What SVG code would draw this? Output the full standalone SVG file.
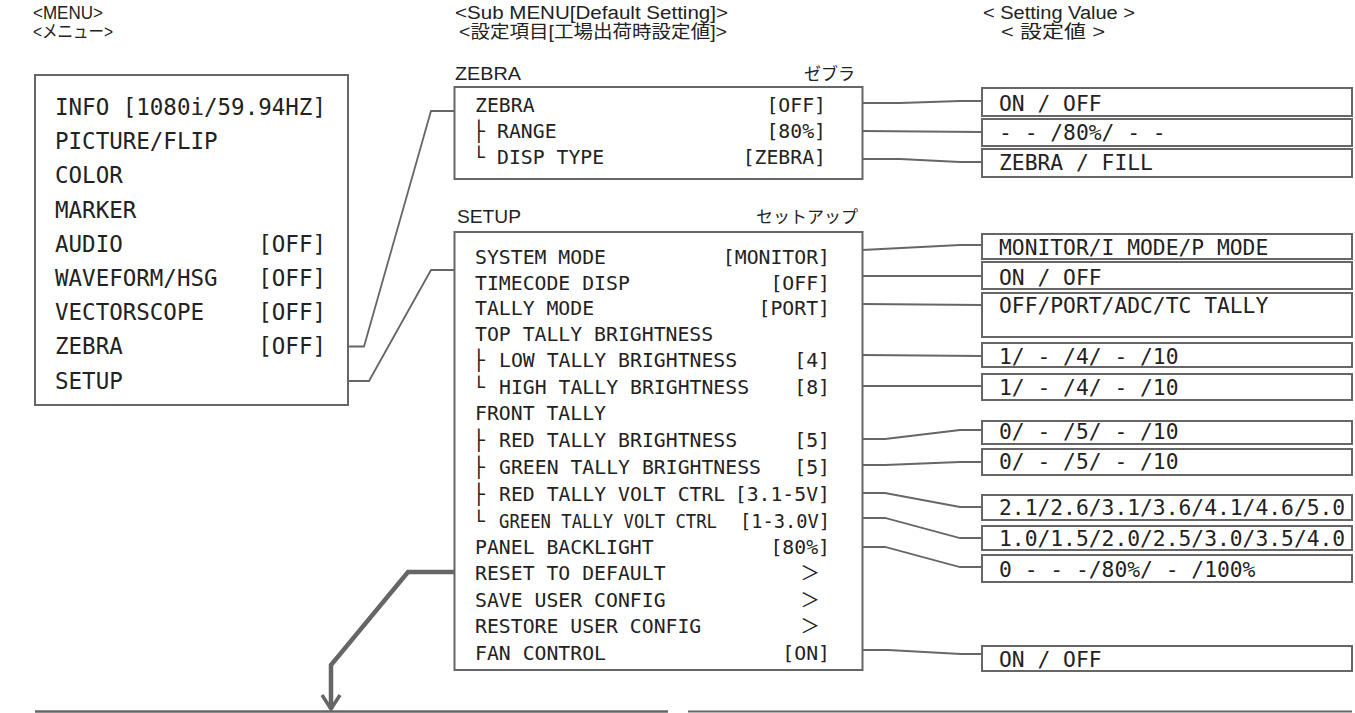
<svg xmlns="http://www.w3.org/2000/svg" width="1355" height="713" viewBox="0 0 1355 713">
<style>
.bx{fill:#fff;stroke:#666;stroke-width:2}
.cn{fill:none;stroke:#666;stroke-width:1.8}
.th{fill:none;stroke:#666;stroke-width:4.5;stroke-linejoin:miter}
.h{font-family:"Liberation Sans","Noto Sans CJK JP",sans-serif;font-size:18px;fill:#222}
.lb{font-family:"Liberation Sans","Noto Sans CJK JP",sans-serif;font-size:19px;fill:#222}
.lj{font-family:"Noto Sans CJK JP",sans-serif;font-size:17px;fill:#222}
.mo{font-family:"DejaVu Sans Mono","Noto Sans CJK JP",monospace;fill:#222}
.m{font-size:22.5px}
.z{font-size:19.8px}
.s{font-size:19.8px}
.v{font-size:21.3px}
.e{text-anchor:end}
</style>
<defs>
<marker id="ah" markerUnits="userSpaceOnUse" markerWidth="24" markerHeight="24" viewBox="-16 -12 20 24" refX="0" refY="0" orient="auto">
<path d="M-14,-9 L0,0 L-14,9" fill="none" stroke="#666" stroke-width="3.5"/>
</marker>
</defs>

<g id="headers">
<text class="h" x="33" y="19" textLength="70" lengthAdjust="spacingAndGlyphs">&lt;MENU&gt;</text>
<text class="h" x="33" y="37.5" textLength="80" lengthAdjust="spacingAndGlyphs">&lt;メニュー&gt;</text>
<text class="h" x="455" y="19" textLength="273" lengthAdjust="spacingAndGlyphs">&lt;Sub MENU[Default Setting]&gt;</text>
<text class="h" x="459" y="37.5" textLength="268" lengthAdjust="spacingAndGlyphs">&lt;設定項目[工場出荷時設定値]&gt;</text>
<text class="h" x="983" y="19" textLength="152" lengthAdjust="spacingAndGlyphs">&lt; Setting Value &gt;</text>
<text class="h" x="1001" y="37.5" textLength="104" lengthAdjust="spacingAndGlyphs">&lt; 設定値 &gt;</text>
</g>

<g id="menu">
<rect class="bx" x="35" y="75" width="313" height="330"/>
<text class="mo m" x="55" y="115">INFO [1080i/59.94HZ]</text>
<text class="mo m" x="55" y="149.2">PICTURE/FLIP</text>
<text class="mo m" x="55" y="183.4">COLOR</text>
<text class="mo m" x="55" y="217.6">MARKER</text>
<text class="mo m" x="55" y="251.8">AUDIO</text>
<text class="mo m e" x="326" y="251.8">[OFF]</text>
<text class="mo m" x="55" y="286">WAVEFORM/HSG</text>
<text class="mo m e" x="326" y="286">[OFF]</text>
<text class="mo m" x="55" y="320.2">VECTORSCOPE</text>
<text class="mo m e" x="326" y="320.2">[OFF]</text>
<text class="mo m" x="55" y="354.4">ZEBRA</text>
<text class="mo m e" x="326" y="354.4">[OFF]</text>
<text class="mo m" x="55" y="388.6">SETUP</text>
</g>

<g id="zebra">
<text class="lb" x="455" y="80" textLength="66" lengthAdjust="spacingAndGlyphs">ZEBRA</text>
<text class="lj e" x="855" y="80">ゼブラ</text>
<rect class="bx" x="454.5" y="87" width="408" height="92"/>
<text class="mo z" x="475" y="111.5">ZEBRA</text>
<text class="mo z e" x="826" y="111.5">[OFF]</text>
<text class="mo z" x="473" y="137.5">├</text>
<text class="mo z" x="497" y="137.5">RANGE</text>
<text class="mo z e" x="826" y="137.5">[80%]</text>
<text class="mo z" x="473" y="163.5">└</text>
<text class="mo z" x="497" y="163.5">DISP TYPE</text>
<text class="mo z e" x="826" y="163.5">[ZEBRA]</text>
</g>

<g id="setup">
<text class="lb" x="457" y="223" textLength="64" lengthAdjust="spacingAndGlyphs">SETUP</text>
<text class="lj e" x="858" y="223">セットアップ</text>
<rect class="bx" x="454.5" y="232" width="408" height="438"/>
<text class="mo s" x="475" y="264">SYSTEM MODE</text>
<text class="mo s e" x="830" y="264">[MONITOR]</text>
<text class="mo s" x="475" y="289.5">TIMECODE DISP</text>
<text class="mo s e" x="830" y="289.5">[OFF]</text>
<text class="mo s" x="475" y="315">TALLY MODE</text>
<text class="mo s e" x="830" y="315">[PORT]</text>
<text class="mo s" x="475" y="341">TOP TALLY BRIGHTNESS</text>
<text class="mo s" x="473" y="367">├</text>
<text class="mo s" x="499" y="367">LOW TALLY BRIGHTNESS</text>
<text class="mo s e" x="830" y="367">[4]</text>
<text class="mo s" x="473" y="393.5">└</text>
<text class="mo s" x="499" y="393.5">HIGH TALLY BRIGHTNESS</text>
<text class="mo s e" x="830" y="393.5">[8]</text>
<text class="mo s" x="475" y="420">FRONT TALLY</text>
<text class="mo s" x="473" y="446.7">├</text>
<text class="mo s" x="499" y="446.7">RED TALLY BRIGHTNESS</text>
<text class="mo s e" x="830" y="446.7">[5]</text>
<text class="mo s" x="473" y="473.5">├</text>
<text class="mo s" x="499" y="473.5">GREEN TALLY BRIGHTNESS</text>
<text class="mo s e" x="830" y="473.5">[5]</text>
<text class="mo s" x="473" y="501">├</text>
<text class="mo s" x="499" y="501">RED TALLY VOLT CTRL</text>
<text class="mo s e" x="830" y="501">[3.1-5V]</text>
<text class="mo s" x="473" y="527.8">└</text>
<text class="mo s" x="499" y="527.8" textLength="218" lengthAdjust="spacingAndGlyphs">GREEN TALLY VOLT CTRL</text>
<text class="mo s e" x="830" y="527.8" textLength="90" lengthAdjust="spacingAndGlyphs">[1-3.0V]</text>
<text class="mo s" x="475" y="553.5">PANEL BACKLIGHT</text>
<text class="mo s e" x="830" y="553.5">[80%]</text>
<text class="mo s" x="475" y="580">RESET TO DEFAULT</text>
<text class="mo s e" x="820" y="580">＞</text>
<text class="mo s" x="475" y="606.7">SAVE USER CONFIG</text>
<text class="mo s e" x="820" y="606.7">＞</text>
<text class="mo s" x="475" y="633.3">RESTORE USER CONFIG</text>
<text class="mo s e" x="820" y="633.3">＞</text>
<text class="mo s" x="475" y="660">FAN CONTROL</text>
<text class="mo s e" x="830" y="660">[ON]</text>
</g>

<g id="values">
<rect class="bx" x="982" y="88" width="370" height="28"/>
<text class="mo v" x="999" y="111">ON / OFF</text>
<rect class="bx" x="982" y="119" width="370" height="27"/>
<text class="mo v" x="999" y="140">- - /80%/ - -</text>
<rect class="bx" x="982" y="149" width="370" height="28"/>
<text class="mo v" x="999" y="170">ZEBRA / FILL</text>
<rect class="bx" x="982" y="234" width="370" height="25"/>
<text class="mo v" x="999" y="255">MONITOR/I MODE/P MODE</text>
<rect class="bx" x="982" y="262" width="370" height="27"/>
<text class="mo v" x="999" y="285">ON / OFF</text>
<rect class="bx" x="982" y="293" width="370" height="44"/>
<text class="mo v" x="999" y="313">OFF/PORT/ADC/TC TALLY</text>
<rect class="bx" x="982" y="343" width="370" height="24"/>
<text class="mo v" x="999" y="364">1/ - /4/ - /10</text>
<rect class="bx" x="982" y="374" width="370" height="26"/>
<text class="mo v" x="999" y="395">1/ - /4/ - /10</text>
<rect class="bx" x="982" y="421" width="370" height="23"/>
<text class="mo v" x="999" y="439">0/ - /5/ - /10</text>
<rect class="bx" x="982" y="449" width="370" height="26"/>
<text class="mo v" x="999" y="469">0/ - /5/ - /10</text>
<rect class="bx" x="982" y="495" width="370" height="25"/>
<text class="mo v" x="999" y="515">2.1/2.6/3.1/3.6/4.1/4.6/5.0</text>
<rect class="bx" x="982" y="526" width="370" height="24"/>
<text class="mo v" x="999" y="546">1.0/1.5/2.0/2.5/3.0/3.5/4.0</text>
<rect class="bx" x="982" y="555" width="370" height="27"/>
<text class="mo v" x="999" y="577">0 - - -/80%/ - /100%</text>
<rect class="bx" x="982" y="646" width="370" height="25"/>
<text class="mo v" x="999" y="667">ON / OFF</text>
</g>

<g id="connectors">
<path class="cn" d="M348,346.5 L364,346.5 L431,111 L454,111"/>
<path class="cn" d="M348,381 L369,381 L431,270 L454,270"/>
<path class="cn" d="M862,103 L900,103 L960,101 L982,101"/>
<path class="cn" d="M862,131 L982,132"/>
<path class="cn" d="M862,159 L900,159 L960,162 L982,162"/>
<path class="cn" d="M862,250 L960,245 L982,245"/>
<path class="cn" d="M862,276 L982,276"/>
<path class="cn" d="M862,304 L982,305"/>
<path class="cn" d="M862,355 L982,356"/>
<path class="cn" d="M862,386 L982,386"/>
<path class="cn" d="M862,439 L885,439 L960,430 L982,430"/>
<path class="cn" d="M862,465 L885,465 L960,462 L982,462"/>
<path class="cn" d="M862,493 L885,493 L960,507 L982,507"/>
<path class="cn" d="M862,518 L885,518 L960,538 L982,538"/>
<path class="cn" d="M862,547 L885,547 L960,567 L982,567"/>
<path class="cn" d="M862,650 L888,650 L961,654 L982,654"/>
<path class="th" d="M455,572 L408,572 L331,665 L331,709" marker-end="url(#ah)"/>
</g>

<g id="bottom">
<line x1="35" y1="711.5" x2="668" y2="711.5" stroke="#666" stroke-width="2.5"/>
<line x1="688" y1="711.5" x2="1352" y2="711.5" stroke="#666" stroke-width="2"/>
</g>
</svg>
